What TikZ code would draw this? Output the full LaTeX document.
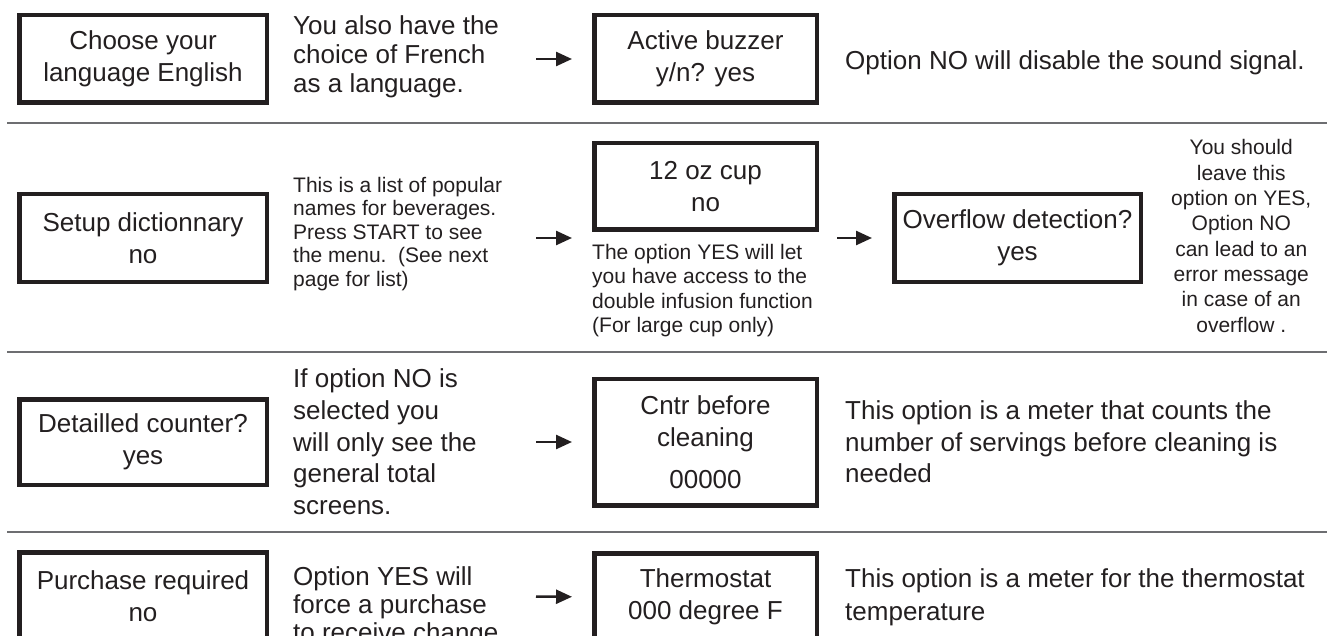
\documentclass[tikz,border=0pt]{standalone}
\usepackage{fontspec}
\setmainfont{Liberation Sans}
\usetikzlibrary{arrows.meta,positioning}
\definecolor{ink}{HTML}{231F20}
\definecolor{rule}{HTML}{6D6E71}
\tikzset{
  >={Triangle[length=16pt,width=14pt]},
  lcd/.style={draw=ink,line width=4.5pt,text=ink,align=center,inner sep=0pt,font=\fontsize{26}{32}\selectfont,minimum height=87.5pt},
  wbox/.style={lcd,minimum width=247.5pt},
  nbox/.style={lcd,minimum width=222.5pt},
  note/.style={text=ink,align=left,inner sep=0pt,font=\fontsize{26}{29}\selectfont},
  snote/.style={note,font=\fontsize{21}{23.5}\selectfont},
  arr/.style={->,draw=ink,line width=2.5pt},
  sep/.style={draw=rule,line width=1.5pt},
}
\begin{document}
\begin{tikzpicture}[x=1pt,y=-1pt]
\useasboundingbox (0,0) rectangle (1327,636);
\clip (0,0) rectangle (1327,636);
\foreach \y in {123,352,532} \draw[sep] (7,\y) -- (1327,\y);
% language / buzzer
\node[wbox] (lang) at (143,59) {Choose your\\language English};
\node[note,right=24pt of lang,yshift=2pt] (langnote) {You also have the\\choice of French\\as a language.};
\node[nbox,right=323pt of lang] (buzz) {Active buzzer\\y/n? yes};
\node[note,right=26pt of buzz,yshift=-4pt] (buzznote) {Option NO will disable the sound signal.};
\draw[arr,shorten <=267pt,shorten >=20pt] (lang) -- (buzz);
% dictionary / cup / overflow
\node[wbox,below=87pt of lang] (dict) {Setup dictionnary\\no};
\node[snote,right=24pt of dict,yshift=4pt] (dictnote) {This is a list of popular\\names for beverages.\\Press START to see\\the menu.\ \ (See next\\page for list)};
\node[nbox,right=323pt of dict,yshift=51.5pt,minimum height=86.5pt] (cup) {12 oz cup\\no};
\node[snote,font=\fontsize{21}{24.5}\selectfont,below=12pt of cup.south west,anchor=north west] (cupnote) {The option YES will let\\you have access to the\\double infusion function\\(For large cup only)};
\node[lcd,minimum width=246.5pt,right=73pt of cup,yshift=-51.5pt] (flow) {Overflow detection?\\yes};
\node[snote,font=\fontsize{21}{25.3}\selectfont,align=center,right=28pt of flow,yshift=2pt] (flownote) {You should\\leave this\\option on YES,\\Option NO\\can lead to an\\error message\\in case of an\\overflow .};
\draw[arr,shorten <=267pt,shorten >=20pt] (dict) -- (dict -| cup.west);
\draw[arr,shorten <=18pt,shorten >=20pt] (cup.east |- flow) -- (flow);
% counters
\node[wbox,below=113pt of dict,minimum height=85.5pt] (detail) {Detailled counter?\\yes};
\node[note,font=\fontsize{26}{31.7}\selectfont,right=24pt of detail] (detailnote) {If option NO is\\selected you\\will only see the\\general total\\screens.};
\node[nbox,right=323pt of detail,minimum height=126.5pt] (cntr) {Cntr before\\cleaning\\[10pt]00000};
\node[note,font=\fontsize{26}{31.5}\selectfont,right=26pt of cntr] (cntrnote) {This option is a meter that counts the\\number of servings before cleaning is\\needed};
\draw[arr,shorten <=267pt,shorten >=20pt] (detail) -- (cntr);
% purchase / thermostat
\node[wbox,below=63pt of detail] (purchase) {Purchase required\\no};
\node[note,font=\fontsize{26}{28}\selectfont,right=24pt of purchase,yshift=-11pt] (purchasenote) {Option YES will\\force a purchase\\to receive change.};
\node[nbox,right=323pt of purchase,yshift=-1pt] (thermo) {Thermostat\\000 degree F};
\node[note,font=\fontsize{26}{33}\selectfont,right=26pt of thermo] (thermonote) {This option is a meter for the thermostat\\temperature};
\draw[arr,shorten <=267pt,shorten >=20pt] (purchase) -- (thermo);
\end{tikzpicture}
\end{document}
